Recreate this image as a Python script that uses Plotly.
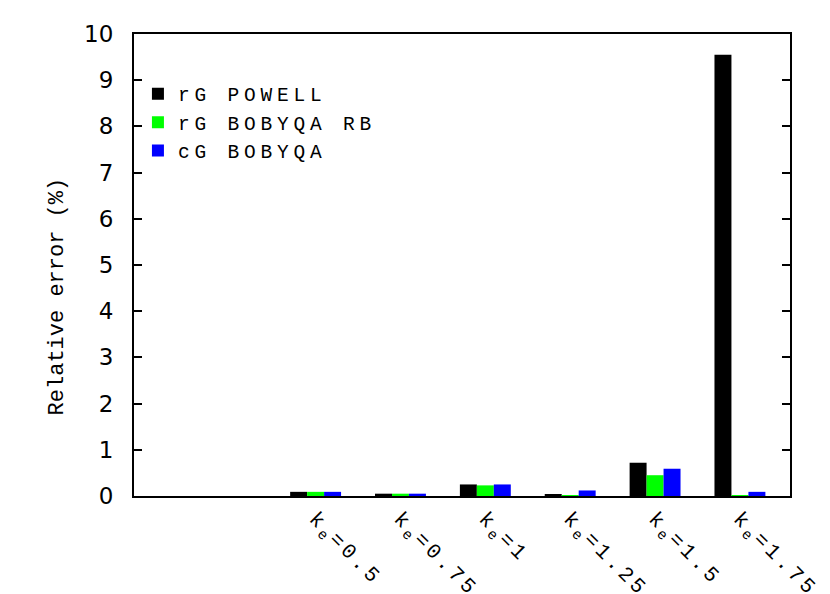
import plotly.graph_objects as go

categories = ["k<sub>e</sub>=0.5", "k<sub>e</sub>=0.75", "k<sub>e</sub>=1",
              "k<sub>e</sub>=1.25", "k<sub>e</sub>=1.5", "k<sub>e</sub>=1.75"]
positions = [0, 1, 2, 3, 4, 5]
rg_powell = [0.09, 0.05, 0.25, 0.04, 0.72, 9.55]
rg_bobyqa_rb = [0.09, 0.05, 0.23, 0.005, 0.45, 0.02]
cg_bobyqa = [0.09, 0.05, 0.25, 0.12, 0.59, 0.09]
series_names = ["rG POWELL", "rG BOBYQA RB", "cG BOBYQA"]
series_colors = ["#000000", "#00ff00", "#0000ff"]

mono = "Liberation Mono"


def spaced(s, px):
    return '<span style="letter-spacing:%.1fpx">%s</span>' % (px, s)


fig = go.Figure()
for name, vals, col in zip(series_names, [rg_powell, rg_bobyqa_rb, cg_bobyqa], series_colors):
    fig.add_trace(go.Bar(x=positions, y=vals, name=spaced(name, 4.8),
                         marker=dict(color=col, line=dict(width=0))))

fig.add_annotation(text="Relative error (%)", textangle=-90, xref="paper", yref="paper",
                   x=0, y=0.432, xanchor="center", yanchor="middle", xshift=-77,
                   showarrow=False, font=dict(family=mono, size=22, color="black"))

fig.update_layout(
    width=830, height=594,
    margin=dict(l=126, r=48, t=26, b=106),
    paper_bgcolor="white", plot_bgcolor="white",
    barmode="group", bargap=0.4, bargroupgap=0,
    showlegend=True,
    legend=dict(x=0.006, y=0.912, xanchor="left", yanchor="top",
                bgcolor="rgba(0,0,0,0)", font=dict(family=mono, size=19.5, color="black"),
                tracegroupgap=0, itemwidth=30),
    xaxis=dict(range=[-2.14, 5.59], tickmode="array", tickvals=positions,
               ticktext=[spaced(c, 3.5) for c in categories],
               tickangle=45, ticks="", showgrid=False, zeroline=False, automargin=False,
               showline=True, linecolor="black", linewidth=2, mirror=True,
               tickfont=dict(family=mono, size=21, color="black")),
    yaxis=dict(range=[0, 10], dtick=1, ticks="inside", ticklen=8, tickwidth=1.5,
               tickcolor="black", showgrid=False, zeroline=False, automargin=False,
               showline=True, linecolor="black", linewidth=2, mirror="allticks",
               tickfont=dict(family="DejaVu Sans", size=23, color="black"),
               ticklabelstandoff=14),
)

fig.write_html("out.html")
